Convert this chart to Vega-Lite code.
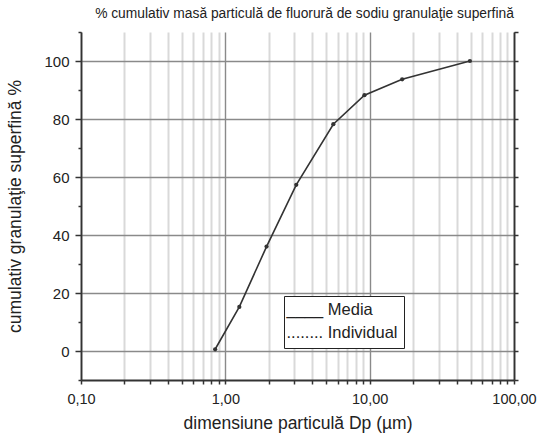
{
  "$schema": "https://vega.github.io/schema/vega-lite/v6.json",
  "width": 433,
  "height": 348,
  "autosize": {"type": "none"},
  "padding": {"left": 81, "top": 32, "right": 24, "bottom": 54},
  "title": {"text": "% cumulativ masă particulă de fluorură de sodiu granulaţie superfină", "fontSize": 13.8, "font": "Liberation Sans", "fontWeight": "normal", "color": "#222", "anchor": "middle", "frame": "group", "dx": 7, "offset": 10},
  "data": {"values": [
    {"d": 0.85, "p": 0.6, "s": "Media"},
    {"d": 1.25, "p": 15.2, "s": "Media"},
    {"d": 1.93, "p": 36, "s": "Media"},
    {"d": 3.1, "p": 57.3, "s": "Media"},
    {"d": 5.6, "p": 78.2, "s": "Media"},
    {"d": 9.2, "p": 88.2, "s": "Media"},
    {"d": 16.8, "p": 93.7, "s": "Media"},
    {"d": 49.5, "p": 100, "s": "Media"}
  ]},
  "config": {
    "font": "Liberation Sans",
    "view": {"stroke": null},
    "axis": {"labelFont": "Liberation Sans", "titleFont": "Liberation Sans", "labelColor": "#222", "titleColor": "#222", "titleFontWeight": "normal", "tickColor": "#333", "domainColor": "#333", "domainWidth": 1.8, "tickWidth": 1.5, "labelFlush": false}
  },
  "layer": [
    {
      "mark": {"type": "line", "color": "#333", "strokeWidth": 1.6},
      "encoding": {
        "x": {"field": "d", "type": "quantitative", "scale": {"type": "log", "domain": [0.1, 100], "nice": false},
          "axis": {"orient": "bottom", "values": [0.2,0.3,0.4,0.5,0.6,0.7,0.8,0.9,2,3,4,5,6,7,8,9,20,30,40,50,60,70,80,90], "labels": false, "title": null, "grid": true, "gridColor": "#d9d9d9", "gridWidth": 2, "tickSize": 4, "domain": false}},
        "y": {"field": "p", "type": "quantitative", "scale": {"domain": [-10, 110], "nice": false, "zero": false},
          "axis": {"orient": "left", "values": [-10,10,30,50,70,90,110], "labels": false, "title": null, "grid": false, "tickSize": 3, "domain": false}},
        "color": {"field": "s", "type": "nominal", "scale": {"domain": ["Media", "Individual"], "range": ["#333", "#333"]},
          "legend": {"orient": "none", "legendX": 203, "legendY": 264, "title": null, "labelExpr": "datum.label == 'Media' ? '____ Media' : '........ Individual'", "symbolOpacity": 0, "symbolSize": 0, "symbolStrokeWidth": 0, "symbolType": "circle", "labelOffset": -20, "labelFontSize": 16.5, "labelFont": "Liberation Sans", "labelColor": "#222", "strokeColor": "#222", "fillColor": "white", "padding": 6, "rowPadding": 6, "labelLimit": 300}}
      }
    },
    {
      "mark": {"type": "point", "filled": true, "color": "#333", "size": 18, "opacity": 1},
      "encoding": {
        "x": {"field": "d", "type": "quantitative",
          "axis": {"orient": "bottom", "values": [0.1, 1, 10, 100], "labelExpr": "replace(format(datum.value, '.2f'), '.', ',')", "labelFontSize": 14.5, "labelPadding": 8, "title": "dimensiune particulă Dp (µm)", "titleFontSize": 17.5, "titlePadding": 9, "grid": true, "gridColor": "#8a8a8a", "gridWidth": 1.4, "tickSize": 4}},
        "y": {"field": "p", "type": "quantitative",
          "axis": {"orient": "left", "values": [0, 20, 40, 60, 80, 100], "labelFontSize": 15, "labelPadding": 6, "title": "cumulativ granulaţie superfină %", "titleFontSize": 17.5, "titlePadding": 19, "grid": true, "gridColor": "#8a8a8a", "gridWidth": 1.4, "tickSize": 6}}
      }
    },
    {
      "mark": {"type": "point", "opacity": 0},
      "encoding": {
        "x": {"field": "d", "type": "quantitative", "axis": null},
        "y": {"field": "p", "type": "quantitative",
          "axis": {"orient": "right", "values": [-10,0,10,20,30,40,50,60,70,80,90,100,110], "labels": false, "title": null, "grid": false, "tickSize": 4}}
      }
    }
  ],
  "resolve": {"axis": {"x": "independent", "y": "independent"}}
}
